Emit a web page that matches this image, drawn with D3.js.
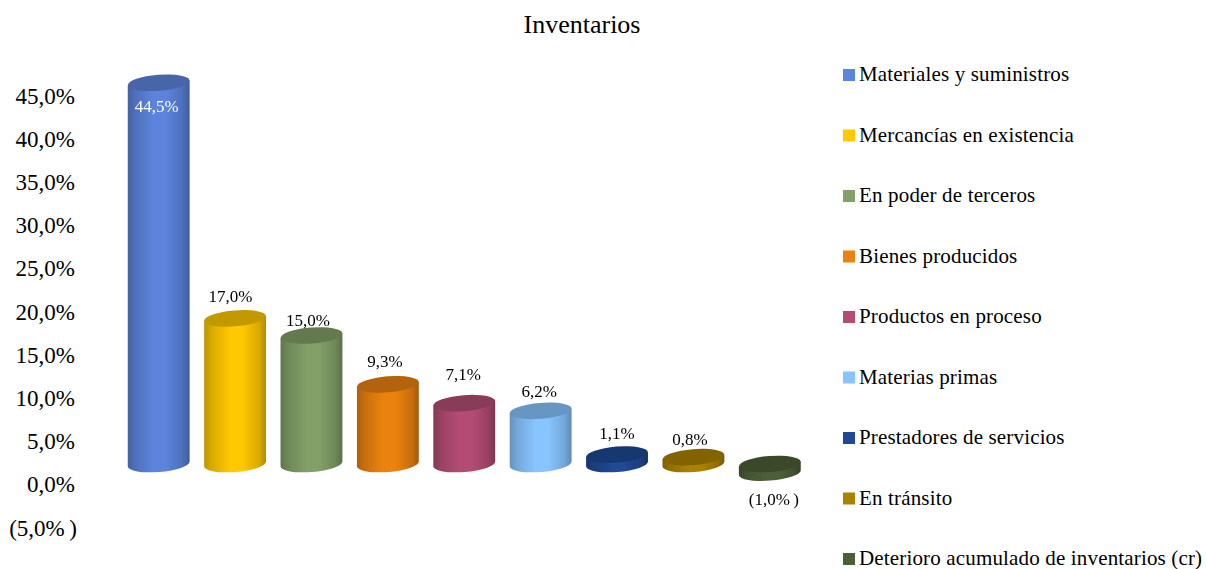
<!DOCTYPE html>
<html><head><meta charset="utf-8">
<script src="https://cdnjs.cloudflare.com/ajax/libs/d3/7.8.5/d3.min.js"></script>
<style>html,body{margin:0;padding:0;background:#fff}svg{display:block}text{font-family:"Liberation Serif",serif;fill:#000}</style>
</head><body><div id="c"></div>
<script>
const title = "Inventarios";
const categories = ["Materiales y suministros","Mercancías en existencia","En poder de terceros","Bienes producidos","Productos en proceso","Materias primas","Prestadores de servicios","En tránsito","Deterioro acumulado de inventarios (cr)"];
const values = [44.5,17.0,15.0,9.3,7.1,6.2,1.1,0.8,-1.0];
const colors = ["#5b84dc","#ffc800","#82a068","#ea8210","#b44c74","#88c4ff","#204894","#aa8200","#4c6038"];
const yTicks = [-5,0,5,10,15,20,25,30,35,40,45];

const W=1206,H=569;
const fmt = v => { const s = Math.abs(v).toFixed(1).replace(".",",")+"%"; return v<0 ? "("+s+"\u2009)" : s; };
const svg = d3.select("#c").append("svg").attr("width",W).attr("height",H);
const defs = svg.append("defs");
defs.append("filter").attr("id","soft").attr("x","-10%").attr("y","-10%").attr("width","120%").attr("height","120%")
  .append("feGaussianBlur").attr("stdDeviation",0.5);

svg.append("text").attr("x",582).attr("y",33).attr("text-anchor","middle").attr("font-size",26).text(title);

const y = d3.scaleLinear().domain([-5,45]).range([527.5,95.5]);
const x = d3.scaleBand().domain(d3.range(values.length)).range([120.5,808]).paddingInner(0.19).paddingOuter(0.095);
// Cylinders stand on a 3D floor: slightly compressed and raised relative to the axis.
const sy = d3.scaleLinear().domain([0,45]).range([464,78.5]);

const axis = d3.axisLeft(y).tickValues(yTicks).tickSize(0).tickPadding(0).tickFormat(fmt);
const gA = svg.append("g").attr("transform","translate(75,0)").call(axis);
gA.select(".domain").remove();
gA.selectAll("text").attr("font-size",23).attr("font-family",'"Liberation Serif",serif').attr("dy","0.33em")
  .attr("dx",d=>d<0?2:0);

const ry = 8, tilt = -4.5;
const rx = x.bandwidth()/2;

function shade(c,k){ return d3.rgb(c).darker(k).formatHex(); }
colors.forEach((c,i)=>{
  const g = defs.append("linearGradient").attr("id","g"+i);
  [[0,shade(c,0.85)],[0.12,shade(c,0.45)],[0.42,c],[0.62,c],[0.88,shade(c,0.45)],[1,shade(c,1.0)]]
    .forEach(([o,col])=>g.append("stop").attr("offset",o).attr("stop-color",col));
});

const bars = svg.append("g").attr("filter","url(#soft)").selectAll("g").data(values).join("g")
  .attr("transform",(d,i)=>`translate(${x(i)+rx},0)`);
const tiltDy = rx*Math.tan(-tilt*Math.PI/180);
bars.append("path").attr("fill",(d,i)=>`url(#g${i})`).attr("d",d=>{
  const a=sy(Math.max(d,0)), b=sy(Math.min(d,0));
  return `M${-rx},${a+tiltDy}L${rx},${a-tiltDy}L${rx},${b-tiltDy}A${rx},${ry} ${tilt} 0 1 ${-rx},${b+tiltDy}Z`;
});
bars.append("ellipse").attr("rx",rx).attr("ry",ry)
  .attr("transform",d=>`translate(0,${sy(Math.max(d,0))}) rotate(${tilt})`)
  .attr("fill",(d,i)=>shade(colors[i],0.75));

// Per-label nudges as placed in the source chart
const labelDx = [-2,-4.5,-3.5,-3,-1,-1.5,0,-3.5,4];
const labelDy = [29,-16,-10,-17,-23,-13.5,-16,-12.5,41];
svg.append("g").selectAll("text").data(values).join("text")
  .attr("x",(d,i)=>x(i)+rx+labelDx[i]).attr("text-anchor","middle")
  .attr("y",(d,i)=>sy(Math.max(d,0))+labelDy[i])
  .attr("font-size",17)
  .style("fill",(d,i)=>i===0?"#fff":"#000").text(fmt);

const ly = d3.scalePoint().domain(d3.range(categories.length)).range([75,559]);
const leg = svg.append("g").selectAll("g").data(categories).join("g").attr("transform",(d,i)=>`translate(843,${ly(i)})`);
leg.append("rect").attr("y",-6).attr("width",12).attr("height",12).attr("fill",(d,i)=>colors[i]);
leg.append("text").attr("x",16).attr("dy","0.3em").attr("font-size",21).attr("letter-spacing",0.16).text(d=>d);
</script></body></html>
